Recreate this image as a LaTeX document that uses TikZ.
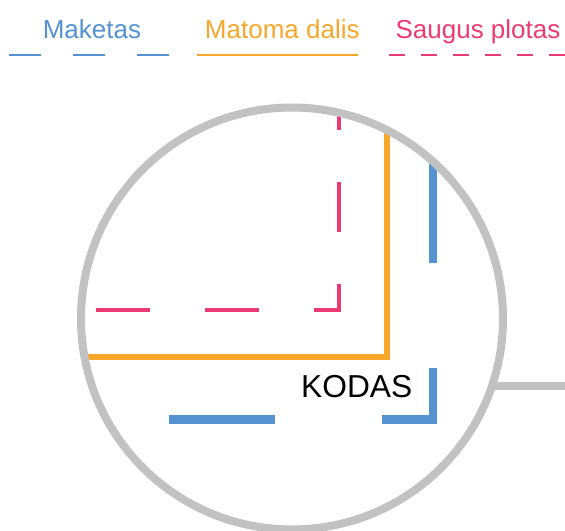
\documentclass[tikz,border=0pt]{standalone}
\usepackage{fontspec}
\setmainfont{Liberation Sans}
\definecolor{mblue}{RGB}{85,146,207}
\definecolor{morange}{RGB}{248,167,43}
\definecolor{mpink}{RGB}{238,58,115}
\definecolor{mgray}{RGB}{193,194,193}
\begin{document}
\begin{tikzpicture}[x=0.75pt,y=-0.75pt,
  legtext/.style={anchor=base,inner sep=0pt,font=\fontsize{19.5}{23}\selectfont},
  legblue/.style={mblue,line width=2.2pt,dash pattern=on 23.8pt off 24.2pt},
  legorange/.style={morange,line width=2.2pt},
  legpink/.style={mpink,line width=1.1pt,dash pattern=on 12pt off 12pt},
  pinkline/.style={mpink,line width=3.2pt},
  orangeline/.style={morange,line width=4.6pt,line join=miter},
  blueline/.style={mblue,line width=6.4pt},
  lensline/.style={mgray,line width=6pt},
  kodastext/.style={anchor=base,inner sep=0pt,font=\fontsize{23.8}{28}\selectfont}]
\useasboundingbox (0,0) rectangle (565,531);
% legend
\node[legtext,text=mblue] (lmak) at (91.9,38.6) {Maketas};
\node[legtext,text=morange] (lmat) at (282.3,38.6) {Matoma dalis};
\node[legtext,text=mpink] (lsau) at (478,38.6) {Saugus plotas};
\draw[legblue] (9,55) -- (169,55);
\draw[legorange] (197,55) -- (358,55);
\draw[legpink] (389,55) -- (566,55);
% lens contents
\coordinate (c) at (292,318.5);
\begin{scope}
\clip (c) circle[radius=211];
\draw[pinkline,dash pattern=on 40.5pt off 41.25pt] (96,309.7) -- (341.3,309.7);
\draw[pinkline,dash pattern=on 38pt off 38.8pt,dash phase=17.25pt] (339.3,311.7) -- (339.3,100);
\draw[orangeline] (60,356.7) -- (386.7,356.7) -- (386.7,90);
\draw[blueline,dash pattern=on 79.5pt off 80.25pt] (168.7,419.5) -- (437,419.5);
\draw[blueline,dash pattern=on 78.75pt off 78.75pt,dash phase=37.2pt] (432.8,423.75) -- (432.8,100);
\end{scope}
\node[kodastext] (kodas) at (356.7,397.7) {KODAS};
% lens frame and handle
\draw[lensline] (c) circle[radius=211];
\coordinate (hs) at (491.9,386);
\coordinate (he) at (566,386);
\draw[lensline] (hs) -- (he);
\end{tikzpicture}
\end{document}
